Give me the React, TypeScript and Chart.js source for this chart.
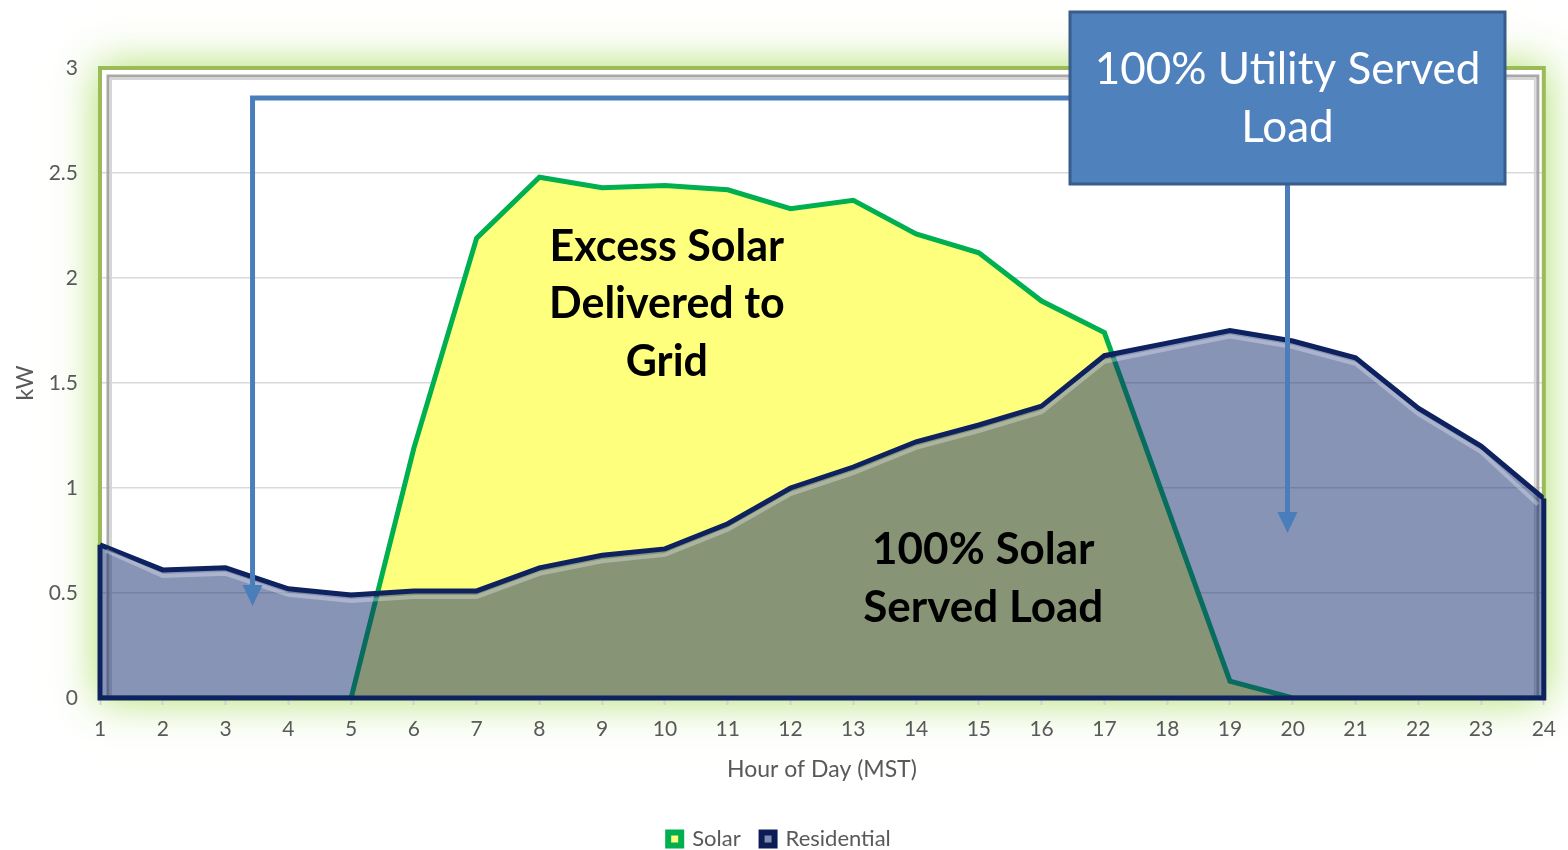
import React, { useEffect, useRef } from "react";
import { Chart, registerables } from "chart.js";

Chart.register(...registerables);

const hours = [1, 2, 3, 4, 5, 6, 7, 8, 9, 10, 11, 12, 13, 14, 15, 16, 17, 18, 19, 20, 21, 22, 23, 24];
const solarKW = [0, 0, 0, 0, 0, 1.19, 2.19, 2.48, 2.43, 2.44, 2.42, 2.33, 2.37, 2.21, 2.12, 1.89, 1.74, 0.91, 0.08, 0, 0, 0, 0, 0];
const residentialKW = [0.73, 0.61, 0.62, 0.52, 0.49, 0.51, 0.51, 0.62, 0.68, 0.71, 0.83, 1.0, 1.1, 1.22, 1.3, 1.39, 1.63, 1.69, 1.75, 1.7, 1.62, 1.38, 1.2, 0.95];
const yMin = 0;
const yMax = 3;
const yStep = 0.5;

const seriesNames = ["Solar", "Residential"];
const xTitle = "Hour of Day (MST)";
const yTitle = "kW";
const excessLines = ["Excess Solar", "Delivered to", "Grid"];
const solarServedLines = ["100% Solar", "Served Load"];
const utilityLines = ["100% Utility Served", "Load"];

const FONT = "Lato, 'Open Sans', 'DejaVu Sans', sans-serif";
const GREY = "#595959";
const NAVY = "#0E2260";
const ARROW = "#4A7EBB";

const framePlugin = {
  id: "frame",
  beforeDraw(chart: any) {
    const { ctx, chartArea: a } = chart;
    ctx.save();
    ctx.fillStyle = "#ffffff";
    ctx.fillRect(0, 0, chart.width, chart.height);
    ctx.shadowColor = "rgba(165,220,90,0.9)";
    ctx.shadowBlur = 40;
    ctx.fillStyle = "#DDF2BE";
    ctx.fillRect(a.left - 2, a.top - 2, a.right - a.left + 4, a.bottom - a.top + 4);
    ctx.shadowBlur = 0;
    ctx.shadowColor = "transparent";
    ctx.fillStyle = "#ffffff";
    ctx.fillRect(a.left, a.top, a.right - a.left, a.bottom - a.top);
    ctx.restore();
  },
  beforeDatasetsDraw(chart: any) {
    const { ctx, chartArea: a } = chart;
    ctx.save();
    ctx.strokeStyle = "#9BBB59";
    ctx.lineWidth = 4;
    ctx.strokeRect(a.left, a.top, a.right - a.left, a.bottom - a.top);
    ctx.strokeStyle = "#A8A8A8";
    ctx.lineWidth = 3;
    ctx.strokeRect(a.left + 8, a.top + 8, a.right - a.left - 14, a.bottom - a.top - 8);
    ctx.strokeStyle = "#D6D6D6";
    ctx.lineWidth = 2;
    ctx.strokeRect(a.left + 11, a.top + 11, a.right - a.left - 20, a.bottom - a.top - 11);
    ctx.restore();
  },
};

const outlinePlugin = {
  id: "outline",
  afterDatasetsDraw(chart: any) {
    const { ctx } = chart;
    const xs = chart.scales.x;
    const ys = chart.scales.y;
    const n = hours.length;
    const x0 = xs.getPixelForValue(hours[0]);
    const x1 = xs.getPixelForValue(hours[n - 1]);
    const yb = ys.getPixelForValue(0);
    ctx.save();
    ctx.strokeStyle = "rgba(255,255,255,0.3)";
    ctx.lineWidth = 4;
    ctx.beginPath();
    hours.forEach((h, i) => {
      const px = xs.getPixelForValue(h);
      const py = ys.getPixelForValue(residentialKW[i]) + 6;
      if (i === 0) ctx.moveTo(px + 6, py);
      else if (i === n - 1) ctx.lineTo(px - 6, py);
      else ctx.lineTo(px, py);
    });
    ctx.stroke();
    ctx.strokeStyle = NAVY;
    ctx.lineWidth = 5;
    ctx.lineJoin = "miter";
    ctx.beginPath();
    ctx.moveTo(x0, ys.getPixelForValue(residentialKW[0]));
    ctx.lineTo(x0, yb);
    ctx.lineTo(x1, yb);
    ctx.lineTo(x1, ys.getPixelForValue(residentialKW[n - 1]));
    ctx.stroke();
    ctx.restore();
  },
};

function arrowDown(ctx: CanvasRenderingContext2D, x: number, tipY: number) {
  ctx.beginPath();
  ctx.moveTo(x - 10, tipY - 21);
  ctx.lineTo(x + 10, tipY - 21);
  ctx.lineTo(x, tipY);
  ctx.closePath();
  ctx.fill();
}

const annotationPlugin = {
  id: "annotations",
  afterDraw(chart: any) {
    const { ctx } = chart;
    const xs = chart.scales.x;
    ctx.save();
    ctx.fillStyle = "#000000";
    ctx.textAlign = "center";
    ctx.textBaseline = "middle";
    ctx.font = `bold 43px ${FONT}`;
    const ex = xs.getPixelForValue(10.03);
    excessLines.forEach((t, i) => ctx.fillText(t, ex, 247 + i * 57.5));
    ctx.font = `bold 44px ${FONT}`;
    const sx = xs.getPixelForValue(15.07);
    solarServedLines.forEach((t, i) => ctx.fillText(t, sx, 550 + i * 57.5));

    const boxL = 1070, boxR = 1505, boxT = 12, boxB = 184;
    const boxCx = (boxL + boxR) / 2;
    const ax = xs.getPixelForValue(3.43);
    ctx.strokeStyle = ARROW;
    ctx.fillStyle = ARROW;
    ctx.lineWidth = 5;
    ctx.lineJoin = "miter";
    ctx.beginPath();
    ctx.moveTo(boxL, 98);
    ctx.lineTo(ax, 98);
    ctx.lineTo(ax, 588);
    ctx.stroke();
    arrowDown(ctx, ax, 606);
    ctx.beginPath();
    ctx.moveTo(boxCx, boxB);
    ctx.lineTo(boxCx, 515);
    ctx.stroke();
    arrowDown(ctx, boxCx, 533);

    ctx.fillStyle = "#4F81BD";
    ctx.strokeStyle = "#385D8A";
    ctx.lineWidth = 3;
    ctx.beginPath();
    ctx.rect(boxL, boxT, boxR - boxL, boxB - boxT);
    ctx.fill();
    ctx.stroke();
    ctx.fillStyle = "#ffffff";
    ctx.font = `44px ${FONT}`;
    utilityLines.forEach((t, i) => ctx.fillText(t, boxCx, 70 + i * 58));
    ctx.restore();
  },
};

export default function App() {
  const ref = useRef<HTMLCanvasElement | null>(null);
  useEffect(() => {
    document.body.style.margin = "0";
    const canvas = ref.current;
    if (!canvas) return;
    const chart = new Chart(canvas, {
      type: "line",
      data: {
        datasets: [
          {
            label: seriesNames[0],
            data: hours.map((h, i) => ({ x: h, y: solarKW[i] })),
            borderColor: "#00B050",
            backgroundColor: "#FFFF7E",
            borderWidth: 5,
            fill: "origin",
            pointRadius: 0,
            tension: 0,
            order: 1,
          },
          {
            label: seriesNames[1],
            data: hours.map((h, i) => ({ x: h, y: residentialKW[i] })),
            borderColor: NAVY,
            backgroundColor: "rgba(16,42,110,0.5)",
            borderWidth: 5,
            fill: "origin",
            pointRadius: 0,
            tension: 0,
            order: 0,
          },
        ],
      },
      options: {
        animation: false,
        responsive: false,
        maintainAspectRatio: false,
        layout: { padding: { top: 68, right: 21, left: 12, bottom: -10 } },
        scales: {
          x: {
            type: "linear",
            min: hours[0],
            max: hours[hours.length - 1],
            afterFit: (s: any) => {
              s.height = 126;
            },
            ticks: { stepSize: 1, color: GREY, font: { family: FONT, size: 21 }, padding: 12, maxRotation: 0, autoSkip: false },
            grid: { drawOnChartArea: false, drawTicks: true, tickLength: 7, tickColor: "#D0D0D0", tickWidth: 2 },
            border: { display: true, color: "#D0D0D0", width: 2 },
            title: { display: true, text: xTitle, color: GREY, font: { family: FONT, size: 23 }, padding: { top: 4, bottom: 41 } },
          },
          y: {
            min: yMin,
            max: yMax,
            afterFit: (s: any) => {
              s.width = 88;
            },
            ticks: {
              stepSize: yStep,
              color: GREY,
              font: { family: FONT, size: 21 },
              padding: 22,
              callback: (v: any) => String(Math.round(Number(v) * 10) / 10),
            },
            grid: { color: "#D9D9D9", lineWidth: 1.5, drawTicks: false },
            border: { display: false },
            title: { display: true, text: yTitle, color: GREY, font: { family: FONT, size: 23 }, padding: { top: 0, bottom: 12 } },
          },
        },
        plugins: {
          tooltip: { enabled: false },
          legend: {
            position: "bottom",
            labels: {
              color: GREY,
              font: { family: FONT, size: 22 },
              boxWidth: 13,
              boxHeight: 13,
              padding: 4,
              sort: (a: any, b: any) => a.datasetIndex - b.datasetIndex,
              generateLabels: (c: any) => {
                const items = Chart.defaults.plugins.legend.labels.generateLabels(c);
                items.forEach((it: any) => {
                  it.lineWidth = 6;
                  if (it.datasetIndex === 0) {
                    it.fillStyle = "#FFFF7E";
                    it.strokeStyle = "#00B050";
                    it.text = it.text + "   ";
                  } else {
                    it.fillStyle = "#7F8CB0";
                    it.strokeStyle = "#0C1C55";
                  }
                });
                return items;
              },
            },
          },
        },
      },
      plugins: [framePlugin, outlinePlugin, annotationPlugin],
    } as any);
    return () => chart.destroy();
  }, []);
  return <canvas ref={ref} width={1568} height={850} style={{ display: "block" }} />;
}
